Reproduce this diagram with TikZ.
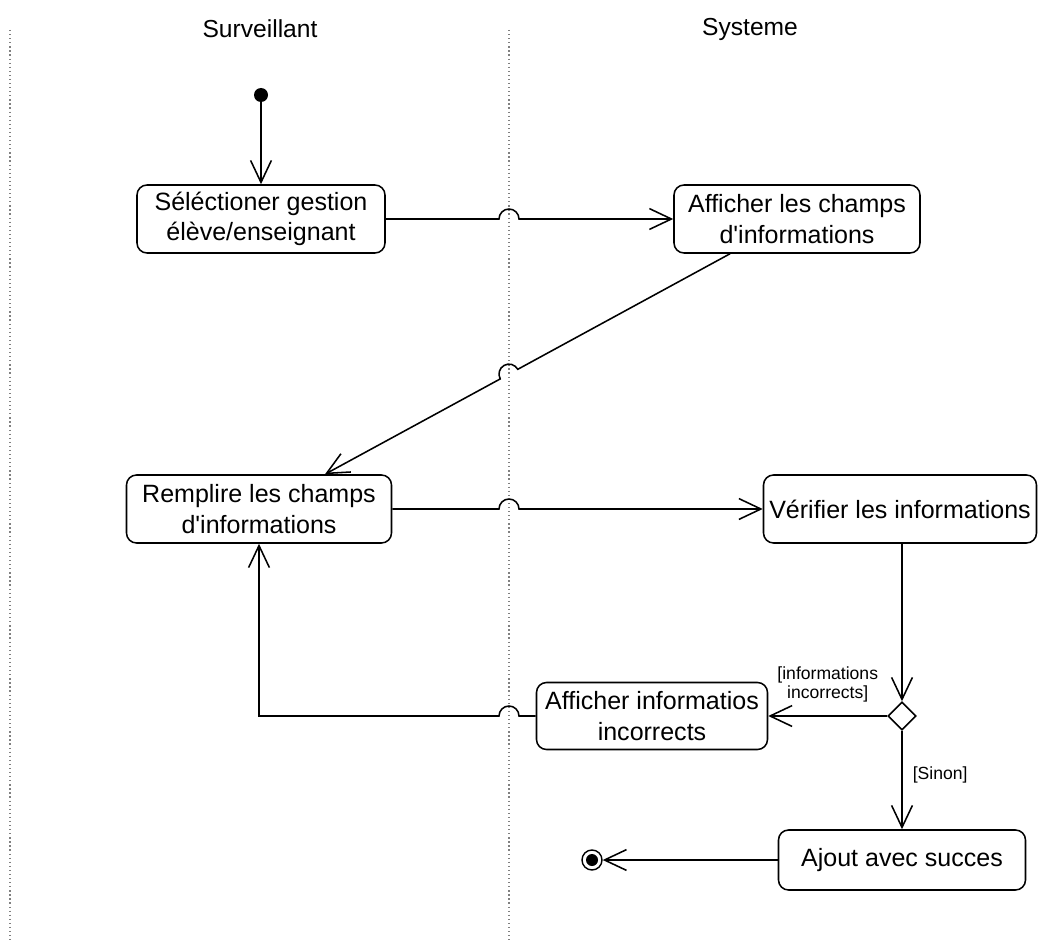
\documentclass[tikz,border=0pt]{standalone}
\usepackage{fontspec}
\setmainfont{Liberation Sans}
\usetikzlibrary{arrows.meta,calc,shapes.geometric}

\begin{document}
\begin{tikzpicture}[
	action/.style={draw, rounded corners=0.25cm, line width=1.1pt, align=center,
		minimum height=1.7cm, font=\fontsize{17.8}{21.5}\selectfont},
	flow/.style={line width=1.1pt, -{Straight Barb[length=5.5mm,width=5.2mm,line width=1.1pt]}},
	guard/.style={font=\fontsize{12.5}{13.5}\selectfont, align=center, inner sep=0pt},
	lane/.style={dotted, gray, line width=0.9pt},
	title/.style={font=\fontsize{17.5}{20}\selectfont}
]
	\useasboundingbox (0,0) rectangle (25.975,-23.5);
	% swimlanes
	\draw[lane] (0.25,-0.75) -- (0.25,-23.5);
	\draw[lane] (12.725,-0.75) -- (12.725,-23.5);
	\coordinate (lane) at (12.725,0);
	\node[title] (surv) at (6.5,-0.725) {Surveillant};
	\node[title] (sys) at (18.75,-0.725) {Systeme};

	\node[circle, fill, inner sep=0pt, minimum size=0.35cm] (init) at (6.525,-2.375) {};
	\node[action, minimum width=6.2cm] (sel) at (6.525,-5.475) {Séléctioner gestion\\élève/enseignant};
	\node[action, minimum width=6.15cm] (aff) at (19.925,-5.475) {Afficher les champs\\d\textquotesingle informations};
	\node[action, minimum width=6.625cm] (rem) at (6.475,-12.725) {Remplire les champs\\d\textquotesingle informations};
	\node[action, minimum width=6.825cm] (ver) at (22.5,-12.725) {Vérifier les informations};
	\node[diamond, draw, line width=1.1pt, inner sep=0pt, minimum width=0.7cm, minimum height=0.7cm] (dec) at (22.55,-17.9) {};
	\node[action, minimum width=5.775cm, minimum height=1.675cm] (inc) at (16.3,-17.9) {Afficher informatios\\incorrects};
	\node[action, minimum width=6.175cm, minimum height=1.5cm] (ajout) at (22.55,-21.5) {Ajout avec succes};
	\node[circle, draw, line width=1pt, inner sep=0pt, minimum size=0.5cm] (fin) at (14.8,-21.5) {};
	\node[circle, fill, inner sep=0pt, minimum size=0.3cm] (finin) at (fin) {};

	\draw[flow] (init) -- (sel);
	\draw[flow] (sel.east) -- ([xshift=-0.25cm]sel.east -| lane) arc[start angle=180, end angle=0, radius=0.25cm] -- (aff.west);
	\coordinate (d1) at ([xshift=-1.675cm]aff.south);
	\coordinate (d2) at ([xshift=1.65cm]rem.north);
	\draw[flow] (d1) -- ($(d1)!0.52403!(d2)$) arc[start angle=28.73, end angle=208.73, radius=0.25cm] -- (d2);
	\draw[flow] (rem.east) -- ([xshift=-0.25cm]rem.east -| lane) arc[start angle=180, end angle=0, radius=0.25cm] -- (ver.west);
	\draw[flow] (ver.south -| dec.north) -- (dec.north);
	\draw[flow] (dec.west) -- (inc.east) node[guard, midway, above=0.325cm] {[informations\\incorrects]};
	\draw[flow] (inc.west) -- ([xshift=0.25cm]inc.west -| lane) arc[start angle=0, end angle=180, radius=0.25cm] -- (inc.west -| rem.south) -- (rem.south);
	\draw[flow] (dec.south) -- (ajout.north) node[guard, pos=0.45, right=0.25cm] {[Sinon]};
	\draw[flow] (ajout.west) -- (fin);
\end{tikzpicture}
\end{document}
